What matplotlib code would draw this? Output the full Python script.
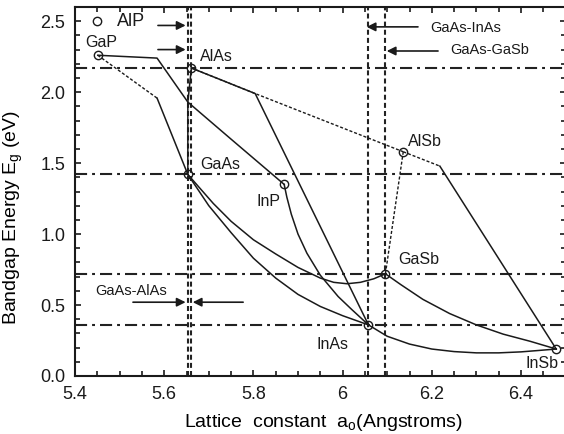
import numpy as np
import matplotlib.pyplot as plt
from matplotlib.ticker import MultipleLocator, FixedLocator, FixedFormatter

plt.rcParams['font.family'] = ['Liberation Sans', 'DejaVu Sans']

# ========================
#  Datos
# ========================

# compuestos binarios: constante de red (A) y gap (eV)
names = ['GaP', 'AlAs', 'GaAs', 'InP', 'AlSb', 'GaSb', 'InAs', 'InSb']
a0 = [5.451, 5.661, 5.653, 5.869, 6.136, 6.096, 6.058, 6.479]
eg = [2.26, 2.17, 1.42, 1.35, 1.58, 0.72, 0.36, 0.19]

# AlP solo como símbolo
alp_a = [5.449]
alp_eg = [2.50]

# ternarios
gaasp_ind_a = [5.451, 5.584]
gaasp_ind_eg = [2.26, 1.958]
gaasp_dir_a = [5.584, 5.653]
gaasp_dir_eg = [1.958, 1.42]

gainp_a = [5.451, 5.584, 5.653, 5.748, 5.869]
gainp_eg = [2.26, 2.24, 1.93, 1.674, 1.35]

algaas_a = [5.661, 5.653, 5.653]
algaas_eg = [2.17, 1.93, 1.42]

alinas_a = [5.661, 5.804, 6.058]
alinas_eg = [2.17, 1.99, 0.36]

alassb_a = [5.661, 5.804, 6.136]
alassb_eg = [2.17, 1.99, 1.58]

alinsb_ind_a = [6.136, 6.218]
alinsb_ind_eg = [1.58, 1.479]
alinsb_dir_a = [6.218, 6.479]
alinsb_dir_eg = [1.479, 0.19]

algasb_a = [6.136, 6.096]
algasb_eg = [1.58, 0.72]

gaassb_a = [5.653, 5.71, 5.75, 5.80, 5.85, 5.90, 5.95, 5.98, 6.01, 6.04, 6.07, 6.096]
gaassb_eg = [1.42, 1.216, 1.09, 0.96, 0.86, 0.765, 0.69, 0.66, 0.65, 0.66, 0.685, 0.72]

gainas_a = [5.653, 5.70, 5.75, 5.80, 5.85, 5.90, 5.95, 6.00, 6.058]
gainas_eg = [1.42, 1.20, 1.01, 0.83, 0.69, 0.575, 0.49, 0.425, 0.36]

inasp_a = [5.869, 5.875, 5.885, 5.90, 5.92, 5.95, 5.99, 6.02, 6.058]
inasp_eg = [1.35, 1.26, 1.14, 1.00, 0.865, 0.71, 0.56, 0.47, 0.36]

gainsb_a = [6.096, 6.13, 6.18, 6.24, 6.30, 6.36, 6.42, 6.479]
gainsb_eg = [0.72, 0.645, 0.54, 0.44, 0.36, 0.295, 0.245, 0.19]

inassb_a = [6.058, 6.10, 6.15, 6.20, 6.25, 6.30, 6.35, 6.40, 6.44, 6.479]
inassb_eg = [0.36, 0.28, 0.225, 0.19, 0.172, 0.163, 0.163, 0.17, 0.18, 0.19]

# líneas de referencia
ref_eg = [2.17, 1.42, 0.72, 0.36]
ref_a = [5.653, 5.661, 6.058, 6.096]

xticks = [5.4, 5.6, 5.8, 6.0, 6.2, 6.4]
xtick_labels = ['5.4', '5.6', '5.8', '6', '6.2', '6.4']
yticks = [0.0, 0.5, 1.0, 1.5, 2.0, 2.5]
ytick_labels = ['0.0', '0.5', '1.0', '1.5', '2.0', '2.5']

# ========================
#  Gráfico
# ========================
fig = plt.figure(figsize=(5.64, 4.34), dpi=100)
ax = fig.add_axes([75 / 564, 58 / 434, 490.6 / 564, 369 / 434])

k = '#1a1a1a'
solid = dict(color=k, lw=1.1, solid_joinstyle='round')
thin_dash = dict(color=k, lw=1.0, ls=(0, (2.2, 1.4)))

for y in ref_eg:
    ax.axhline(y, color='#222222', lw=1.5, ls=(0, (5.8, 2.4, 1.4, 2.4)))
for x in ref_a:
    ax.axvline(x, color='#222222', lw=1.5, ls=(0, (2.4, 1.5)))

ax.plot(gaasp_ind_a, gaasp_ind_eg, **thin_dash)
ax.plot(gaasp_dir_a, gaasp_dir_eg, **solid)
ax.plot(gainp_a, gainp_eg, **solid)
ax.plot(algaas_a, algaas_eg, **solid)
ax.plot(alinas_a, alinas_eg, **solid)
ax.plot(alassb_a, alassb_eg, **thin_dash)
ax.plot(alinsb_ind_a, alinsb_ind_eg, **thin_dash)
ax.plot(alinsb_dir_a, alinsb_dir_eg, **solid)
ax.plot(algasb_a, algasb_eg, **thin_dash)
ax.plot(gaassb_a, gaassb_eg, **solid)
ax.plot(gainas_a, gainas_eg, **solid)
ax.plot(inasp_a, inasp_eg, **solid)
ax.plot(gainsb_a, gainsb_eg, **solid)
ax.plot(inassb_a, inassb_eg, **solid)

ax.plot(a0, eg, 'o', ms=6, mfc='none', mec=k, mew=1.0, zorder=5)
ax.plot(alp_a, alp_eg, 'o', ms=6, mfc='none', mec=k, mew=1.0, zorder=5)

# etiquetas de los compuestos (desplazamientos en unidades de datos)
label_off = {'GaP': (-0.029, 0.09), 'AlAs': (0.019, 0.08), 'GaAs': (0.027, 0.07),
             'InP': (-0.061, -0.12), 'AlSb': (0.011, 0.07), 'GaSb': (0.028, 0.10),
             'InAs': (-0.116, -0.14), 'InSb': (-0.07, -0.10)}
for n, x, y in zip(names, a0, eg):
    dx, dy = label_off[n]
    ax.text(x + dx, y + dy, n, fontsize=11.5, va='center', ha='left', color=k)
ax.text(5.494, 2.50, 'AlP', fontsize=13, va='center', ha='left', color=k)

arrow = dict(arrowstyle='-|>', color=k, lw=1.2, mutation_scale=13, shrinkA=0, shrinkB=0)
ax.annotate('', xy=(5.648, 2.47), xytext=(5.586, 2.47), arrowprops=arrow)
ax.annotate('', xy=(5.648, 2.30), xytext=(5.586, 2.30), arrowprops=arrow)
ax.annotate('', xy=(6.054, 2.46), xytext=(6.169, 2.46), arrowprops=arrow)
ax.annotate('', xy=(6.099, 2.29), xytext=(6.214, 2.29), arrowprops=arrow)
ax.annotate('', xy=(5.648, 0.52), xytext=(5.530, 0.52), arrowprops=arrow)
ax.annotate('', xy=(5.664, 0.52), xytext=(5.777, 0.52), arrowprops=arrow)

ax.text(6.196, 2.45, 'GaAs-InAs', fontsize=10.5, va='center', ha='left', color=k)
ax.text(6.241, 2.30, 'GaAs-GaSb', fontsize=10.5, va='center', ha='left', color=k)
ax.text(5.445, 0.60, 'GaAs-AlAs', fontsize=10.5, va='center', ha='left', color=k)

ax.set_xlim(5.4, 6.5)
ax.set_ylim(0, 2.6)
ax.xaxis.set_major_locator(FixedLocator(xticks))
ax.xaxis.set_major_formatter(FixedFormatter(xtick_labels))
ax.xaxis.set_minor_locator(MultipleLocator(0.05))
ax.yaxis.set_major_locator(FixedLocator(yticks))
ax.yaxis.set_major_formatter(FixedFormatter(ytick_labels))
ax.yaxis.set_minor_locator(MultipleLocator(0.1))
ax.tick_params(which='both', direction='in', top=True, right=True, width=1.2, colors=k)
ax.tick_params(which='major', length=4, labelsize=13, pad=7)
ax.tick_params(which='minor', length=3.5)
for s in ax.spines.values():
    s.set_linewidth(1.5)
    s.set_color(k)

ax.set_xlabel('Lattice  constant  $\\mathregular{a_o}$(Angstroms)', fontsize=14)
ax.set_ylabel('Bandgap Energy $\\mathregular{E_g}$ (eV)', fontsize=14)
ax.xaxis.set_label_coords(0.507, -0.097)
ax.yaxis.set_label_coords(-0.102, 0.43)

fig.savefig('out.png', dpi=100)
